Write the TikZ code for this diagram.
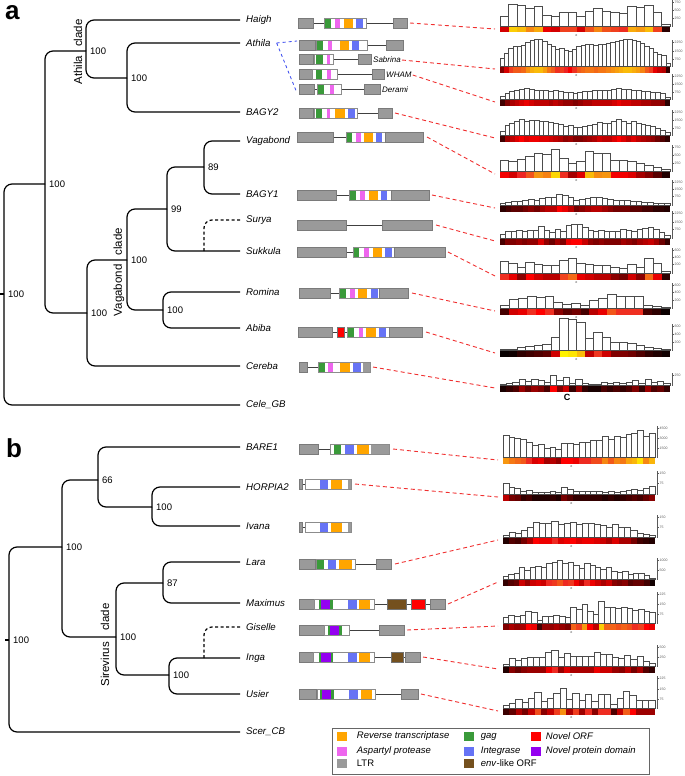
\documentclass[tikz,border=0pt]{standalone}
\usepackage{fontspec}
\setmainfont{Liberation Sans}
\usepackage{tikz}
\usetikzlibrary{positioning}
\definecolor{rtc}{HTML}{FFA500}
\definecolor{protc}{HTML}{EE66EE}
\definecolor{gagc}{HTML}{3A9A3A}
\definecolor{intc}{HTML}{6673F5}
\definecolor{novorf}{HTML}{FF0000}
\definecolor{novdom}{HTML}{9400F0}
\definecolor{envc}{HTML}{74501E}
\definecolor{ltrgray}{HTML}{9A9A9A}
\definecolor{ltredge}{HTML}{7A7A7A}
\definecolor{boxedge}{HTML}{8C8C8C}
\definecolor{linkred}{HTML}{F03030}
\definecolor{athblue}{HTML}{3344EE}
% element pieces: y centre, x from, x to
\newcommand{\ltr}[3]{\draw[ltrbox] (#2,#1-5) rectangle (#3,#1+5);}
\newcommand{\wire}[3]{\draw[wire] (#2,#1) -- (#3,#1);}
\newcommand{\blk}[4]{\draw[blkbox, fill=#4] (#2,#1-5) rectangle (#3,#1+5);}
\newcommand{\orf}[4]{%
  \fill[white] (#2,#1-5) rectangle (#3,#1+5);
  \foreach \xa/\xb/\cl in {#4} {\fill[fill=\cl] (\xa,#1-5) rectangle (\xb,#1+5);}
  \draw[orfedge] (#2,#1-5) rectangle (#3,#1+5);}
% coverage plot: [mark] name, base y, x0, x1, colour scale, heights, axis labels
\newcommand{\hist}[8][c]{%
  \gdef\nbar{1}\gdef\axtop{0}%
  \foreach \h [count=\k] in {#7} {\xdef\nbar{\k}}%
  \foreach \o/\lab in {#8} {\pgfmathsetmacro\tmp{max(\axtop,\o)}\xdef\axtop{\tmp}}%
  \pgfmathsetmacro\bw{(#5-#4)/\nbar}%
  \foreach \h [count=\k] in {#7} {%
    \pgfmathsetmacro\xa{#4+(\k-1)*\bw}%
    \pgfmathsetmacro\xb{#4+\k*\bw}%
    \pgfmathsetmacro\hv{min(1,\h/#6)}%
    \ifdim\hv pt<0.5pt
      \pgfmathsetmacro\pc{200*\hv}\colorlet{heat}{red!\pc!black}%
    \else
      \pgfmathsetmacro\pc{200*(\hv-0.5)}\colorlet{heat}{yellow!\pc!red}%
    \fi
    \fill[heat] (\xa,#3) rectangle (\xb,#3+6.5);
    \draw[bar] (\xa,#3) rectangle (\xb,#3-\h);
  }%
  \pgfmathtruncatemacro\axtopi{\axtop+2}%
  \draw[axisline] (#5+2,#3) -- (#5+2,#3-\axtopi);
  \foreach \m in {0,2,...,\axtopi} {\draw[axisline] (#5+2,#3-\m) -- ++(1,0);}
  \foreach \o/\lab in {#8} {\draw[axisline] (#5+2,#3-\o) -- ++(2,0);
    \node[ticklab] at (#5+4.5,#3-\o) {\lab};}
  \node[cmark] at ({#4+0.45*(#5-#4)},#3+9.5) {#1};
  \coordinate (#2) at (#4-5,#3+3);}

\begin{document}
\begin{tikzpicture}[x=1pt, y=-1pt, font=\fontsize{10}{12}\selectfont,
  branch/.style={line width=1.2pt, rounded corners=8pt},
  dashbranch/.style={branch, dash pattern=on 3pt off 2.5pt},
  leaf/.style={anchor=west, inner xsep=6pt, inner ysep=1pt, font=\itshape\fontsize{9.7}{11}\selectfont},
  boot/.style={anchor=west, inner sep=1pt, xshift=3pt, font=\fontsize{9.5}{11}\selectfont},
  clade/.style={rotate=90, inner sep=0pt, font=\fontsize{11.5}{13}\selectfont},
  panel/.style={anchor=base west, inner sep=0pt, font=\bfseries\fontsize{26}{28}\selectfont},
  subname/.style={anchor=west, inner sep=1pt, font=\itshape\fontsize{8}{9}\selectfont},
  ltrbox/.style={draw=ltredge, fill=ltrgray, line width=0.5pt},
  blkbox/.style={draw=black!55, line width=0.4pt},
  orfedge/.style={draw=boxedge, line width=0.5pt},
  wire/.style={line width=0.9pt, black!75},
  link/.style={linkred, line width=0.9pt, dash pattern=on 4pt off 3pt},
  athlink/.style={athblue, line width=0.8pt, dash pattern=on 3pt off 3pt},
  bar/.style={draw=black!70, line width=0.45pt, fill=white},
  axisline/.style={line width=0.35pt, black!65},
  ticklab/.style={anchor=west, inner sep=0pt, text=black!65, font=\fontsize{3.5}{4}\selectfont},
  cmark/.style={inner sep=0pt, font=\fontsize{3.5}{4}\selectfont},
  swatch/.style={minimum width=10pt, minimum height=9pt, inner sep=0pt},
  keytext/.style={inner sep=0pt, font=\itshape\fontsize{9.5}{11}\selectfont}]
  \useasboundingbox (0,0) rectangle (685,776);

  % ---------------- panel a: tree
  \node[panel] (pa) at (5,20) {a};
  \coordinate (rA) at (4,294);
  \coordinate (nP) at (45,184);
  \coordinate (nAth) at (86,51);
  \coordinate (nA2) at (127,78);
  \coordinate (nVag) at (87,313);
  \coordinate (nV1) at (127,260);
  \coordinate (n99) at (167,209);
  \coordinate (n89) at (204,167);
  \coordinate (nRA) at (163,310);
  \coordinate (sfork) at (204,251);
  \node[leaf] (haigh) at (240,20) {Haigh};
  \node[leaf] (athila) at (240,43) {Athila};
  \node[leaf] (bagy2) at (240,112) {BAGY2};
  \node[leaf] (vagabond) at (240,141) {Vagabond};
  \node[leaf] (bagy1) at (240,194) {BAGY1};
  \node[leaf] (surya) at (240,220) {Surya};
  \node[leaf] (sukkula) at (240,251) {Sukkula};
  \node[leaf] (romina) at (240,292) {Romina};
  \node[leaf] (abiba) at (240,328) {Abiba};
  \node[leaf] (cereba) at (240,366) {Cereba};
  \node[leaf] (celegb) at (240,405) {Cele\_GB};
  \draw[branch] (rA) |- (nP);
  \draw[branch] (rA) |- (celegb.west);
  \draw[branch] (rA) -- ([xshift=-4pt]rA);
  \draw[branch] (nP) |- (nAth);
  \draw[branch] (nP) |- (nVag);
  \draw[branch] (nAth) |- (haigh.west);
  \draw[branch] (nAth) |- (nA2);
  \draw[branch] (nA2) |- (athila.west);
  \draw[branch] (nA2) |- (bagy2.west);
  \draw[branch] (nVag) |- (nV1);
  \draw[branch] (nVag) |- (cereba.west);
  \draw[branch] (nV1) |- (n99);
  \draw[branch] (nV1) |- (nRA);
  \draw[branch] (n99) |- (n89);
  \draw[branch] (n99) |- (sukkula.west);
  \draw[branch] (n89) |- (vagabond.west);
  \draw[branch] (n89) |- (bagy1.west);
  \draw[branch] (nRA) |- (romina.west);
  \draw[branch] (nRA) |- (abiba.west);
  \draw[dashbranch] (sfork) |- (surya.west);
  \node[boot] (bA1) at (rA) {100};
  \node[boot] (bA2) at (nP) {100};
  \node[boot] (bA3) at (nAth) {100};
  \node[boot] (bA4) at (nA2) {100};
  \node[boot] (bA5) at (nVag) {100};
  \node[boot] (bA6) at (nV1) {100};
  \node[boot] (bA7) at (n99) {99};
  \node[boot] (bA8) at (n89) {89};
  \node[boot] (bA9) at (nRA) {100};
  \node[clade] (cAth) at (78,52) {Athila\hspace{9pt}clade};
  \node[clade] (cVag) at (119,272) {Vagabond\hspace{9pt}clade};

  % ---------------- panel a: elements
  % Haigh
  \wire{23}{313}{393}
  \ltr{23}{298}{313}
  \orf{23}{324}{366}{324/331/gagc,335/340/protc,344/353/rtc,356/363/intc}
  \ltr{23}{393}{407}
  \coordinate (eHaigh) at (410,23);
  % Athila, Sabrina, WHAM, Derami
  \wire{45}{315}{386}
  \ltr{45}{299}{315}
  \orf{45}{316}{367}{317/323/gagc,328/332/protc,340/349/rtc,352/359/intc}
  \ltr{45}{386}{403}
  \coordinate (athT) at (297,41);
  \wire{59}{313}{358}
  \ltr{59}{299}{313}
  \orf{59}{314}{333}{316/323/gagc,327/330/protc}
  \ltr{59}{358}{371}
  \node[subname] (sabrina) at (372,60) {Sabrina};
  \wire{74}{312}{372}
  \ltr{74}{299}{312}
  \orf{74}{312}{337}{316/322/gagc,327/331/protc}
  \ltr{74}{372}{384}
  \node[subname] (wham) at (385,75) {WHAM};
  \wire{89}{314}{364}
  \ltr{89}{299}{314}
  \orf{89}{317}{341}{318/324/gagc,330/334/protc}
  \ltr{89}{364}{380}
  \node[subname] (derami) at (381,90) {Derami};
  \coordinate (athB) at (297,93);
  \draw[athlink] (athila.east) -- (athT);
  \draw[athlink] (athila.east) -- (athB);
  % BAGY2
  \wire{113}{313}{378}
  \ltr{113}{299}{313}
  \orf{113}{314}{357}{316/322/gagc,327/330/protc,335/345/rtc,348/355/intc}
  \ltr{113}{378}{392}
  \coordinate (eBagy2) at (395,113);
  % Vagabond
  \wire{137}{333}{346}
  \ltr{137}{297}{333}
  \orf{137}{346}{385}{346/352/gagc,356/361/protc,364/373/rtc,376/382/intc}
  \ltr{137}{385}{423}
  \coordinate (eVagabond) at (427,137);
  % BAGY1
  \wire{195}{336}{349}
  \ltr{195}{297}{336}
  \orf{195}{349}{391}{349/356/gagc,360/365/protc,369/378/rtc,381/387/intc}
  \ltr{195}{391}{429}
  \coordinate (eBagy1) at (432,195);
  % Surya
  \wire{225}{346}{382}
  \ltr{225}{297}{346}
  \ltr{225}{382}{432}
  \coordinate (eSurya) at (436,225);
  % Sukkula
  \wire{252}{346}{353}
  \ltr{252}{297}{346}
  \orf{252}{353}{394}{353/359/gagc,364/369/protc,373/382/rtc,385/392/intc}
  \ltr{252}{394}{445}
  \coordinate (eSukkula) at (448,252);
  % Romina
  \wire{293}{330}{339}
  \ltr{293}{299}{330}
  \orf{293}{339}{379}{339/346/gagc,350/355/protc,358/367/rtc,371/378/intc}
  \ltr{293}{379}{408}
  \coordinate (eRomina) at (412,293);
  % Abiba
  \wire{332}{332}{347}
  \ltr{332}{298}{332}
  \blk{332}{337}{344}{novorf}
  \orf{332}{347}{389}{347/354/gagc,359/363/protc,366/376/rtc,379/386/intc}
  \ltr{332}{389}{422}
  \coordinate (eAbiba) at (426,332);
  % Cereba
  \wire{367}{307}{318}
  \ltr{367}{299}{307}
  \orf{367}{318}{370}{318/325/gagc,328/333/protc,340/350/rtc,353/361/intc,363/370/ltrgray}
  \coordinate (eCereba) at (373,367);

  % ---------------- panel a: coverage
  \hist{hA1}{26}{500}{670}{24}{10,22,21,18,20,11,10,14,14,10,15,18,15,14,13,20,19,21,14,2}{24/750,16/500,8/250}
  \hist{hA2}{66}{500}{670}{31}{8,13,18,20,20,21,24,26,27,27,25,22,20,17,18,16,15,17,20,21,22,22,21,22,22,23,24,25,26,27,27,26,25,23,20,18,14,12,11,3}{24/2250,15/1500,7/750}
  \hist{hA3}{99}{500}{670}{24}{3,6,8,9,10,11,10,9,9,9,8,9,8,7,7,6,7,8,8,9,9,9,9,10,11,10,10,9,9,8,8,7,7,6,2}{23/2250,15/1500,7/750}
  \hist{hA4}{135}{500}{670}{32}{4,10,12,14,16,14,15,15,14,14,13,12,11,9,10,8,8,9,10,11,13,12,12,14,16,14,12,14,12,11,10,9,7,5,3}{23/2250,15/1500,7/750}
  \hist{hA5}{171}{500}{670}{23}{11,9.5,12,14.5,18,17,21.5,12.5,7.5,10,20,17.5,18,11,11,10,7.5,6,4,1.5}{24/750,16/500,8/250}
  \hist{hA6}{205}{500}{670}{22}{2,3,4,4,5,6,5,7,8,8,11,10,8,5,6,7,8,8,7,6,5,5,5,4,4,3,3,2,2,1.5}{23/2250,16/1500,9/750}
  \hist{hA7}{238}{500}{670}{28}{4,7,7,8,7,8,8,12,8,6,9,7,13,14,14,11,8,7,8,7,7,7,9,8,7,9,10,11,9,6,3}{25/2250,16/1500,9/750}
  \hist{hA8}{273}{500}{670}{22}{12,10,6,11,9,8,8,13,15,10,9,8,8,6,5,9,6,15,10,2}{23/600,16/400,9/200}
  \hist{hA9}{308}{500}{670}{22}{3,9,10,12,11,12,6,4,5,3,8,10,14,12,12,12,3,2,0.5}{23/600,16/400,8/200}
  \hist{hA10}{350}{500}{670}{32}{0.5,1,3,4,5,6,13,32,31,28,12,18,13,8,8,7,5,3,2,1}{24/600,16/400,8/200}
  \hist[]{hA11}{385}{500}{670}{20}{1,2,3,6,4,6,5,3,10,5,8,2,6,2,1,1,3,2,3,2,3,5,2,6,3,4,2}{10/250}
  \node[font=\bfseries\fontsize{9}{10}\selectfont] (bigc) at (567,397) {C};
  \foreach \a/\b in {eHaigh/hA1, sabrina.east/hA2, wham.east/hA3, eBagy2/hA4, eVagabond/hA5,
    eBagy1/hA6, eSurya/hA7, eSukkula/hA8, eRomina/hA9, eAbiba/hA10, eCereba/hA11}
    \draw[link] (\a) -- (\b);

  % ---------------- panel b: tree
  \node[panel] (pb) at (6,457) {b};
  \coordinate (rB) at (9,640);
  \coordinate (nB1) at (62,547);
  \coordinate (nB2) at (98,480);
  \coordinate (nB3) at (152,507);
  \coordinate (nB4) at (116,637);
  \coordinate (nB5) at (163,583);
  \coordinate (nB6) at (169,675);
  \coordinate (gfork) at (204,658);
  \node[leaf] (bare1) at (240,447) {BARE1};
  \node[leaf] (horpia2) at (240,487) {HORPIA2};
  \node[leaf] (ivana) at (240,526) {Ivana};
  \node[leaf] (lara) at (240,562) {Lara};
  \node[leaf] (maximus) at (240,603) {Maximus};
  \node[leaf] (giselle) at (240,627) {Giselle};
  \node[leaf] (inga) at (240,658) {Inga};
  \node[leaf] (usier) at (240,694) {Usier};
  \node[leaf] (scercb) at (240,732) {Scer\_CB};
  \draw[branch] (rB) |- (nB1);
  \draw[branch] (rB) |- (scercb.west);
  \draw[branch] (rB) -- ([xshift=-4pt]rB);
  \draw[branch] (nB1) |- (nB2);
  \draw[branch] (nB1) |- (nB4);
  \draw[branch] (nB2) |- (bare1.west);
  \draw[branch] (nB2) |- (nB3);
  \draw[branch] (nB3) |- (horpia2.west);
  \draw[branch] (nB3) |- (ivana.west);
  \draw[branch] (nB4) |- (nB5);
  \draw[branch] (nB4) |- (nB6);
  \draw[branch] (nB5) |- (lara.west);
  \draw[branch] (nB5) |- (maximus.west);
  \draw[branch] (nB6) |- (inga.west);
  \draw[branch] (nB6) |- (usier.west);
  \draw[dashbranch] (gfork) |- (giselle.west);
  \node[boot] (bB1) at (rB) {100};
  \node[boot] (bB2) at (nB1) {100};
  \node[boot] (bB3) at (nB2) {66};
  \node[boot] (bB4) at (nB3) {100};
  \node[boot] (bB5) at (nB4) {100};
  \node[boot] (bB6) at (nB5) {87};
  \node[boot] (bB7) at (nB6) {100};
  \node[clade] (cSir) at (105,645) {Sirevirus\hspace{11pt}clade};

  % ---------------- panel b: elements
  % BARE1
  \wire{449}{318}{330}
  \ltr{449}{299}{318}
  \orf{449}{330}{389}{334/341/gagc,345/354/intc,357/369/rtc,371/389/ltrgray}
  \coordinate (eBare) at (393,449);
  % HORPIA2, Ivana
  \wire{484}{302}{305}
  \ltr{484}{299}{302}
  \orf{484}{305}{351}{320/328/intc,331/342/rtc,348/351/ltrgray}
  \coordinate (eHorpia) at (355,484);
  \wire{527}{302}{305}
  \ltr{527}{299}{302}
  \orf{527}{305}{351}{320/328/intc,331/342/rtc,348/351/ltrgray}
  % Lara
  \wire{564}{315}{376}
  \ltr{564}{299}{315}
  \orf{564}{316}{355}{317/324/gagc,328/336/intc,339/352/rtc}
  \ltr{564}{376}{391}
  \coordinate (eLara) at (395,564);
  % Maximus
  \wire{604}{314}{430}
  \ltr{604}{299}{314}
  \orf{604}{314}{374}{319/321/gagc,321/330/novdom,330/333/gagc,348/357/intc,359/370/rtc}
  \blk{604}{387}{406}{envc}
  \blk{604}{411}{425}{novorf}
  \ltr{604}{430}{445}
  \coordinate (eMaximus) at (448,604);
  % Giselle
  \wire{630}{324}{379}
  \ltr{630}{299}{324}
  \orf{630}{324}{349}{328/330/gagc,330/339/novdom,339/342/gagc}
  \ltr{630}{379}{404}
  \coordinate (eGiselle) at (407,630);
  % Inga
  \wire{657}{313}{405}
  \ltr{657}{299}{313}
  \orf{657}{313}{374}{319/321/gagc,321/331/novdom,331/333/gagc,348/357/intc,359/370/rtc}
  \blk{657}{391}{403}{envc}
  \ltr{657}{405}{420}
  \coordinate (eInga) at (423,657);
  % Usier
  \wire{694}{316}{401}
  \ltr{694}{299}{316}
  \orf{694}{317}{375}{320/322/gagc,322/331/novdom,331/334/gagc,349/358/intc,361/372/rtc}
  \ltr{694}{401}{418}
  \coordinate (eUsier) at (421,694);

  % ---------------- panel b: coverage
  \hist{hB1}{457}{503}{655}{28}{22,20,19,18,15,12,13,9,10,8,14,14,13,15,15,17,17,21,18,21,20,23,24,27,21,24}{29/4500,19/3000,9/1500}
  \hist{hB2}{494}{503}{655}{30}{11,7,6,3,4,2,2,2,3,2,7,5,3,3,3,3,3,2,3,2,3,4,5,4,6,8}{21/150,11/75}
  \hist{hB3}{537}{503}{655}{30}{2,5,4,7,10,15,14,14,16,13,14,15,13,14,14,13,12,10,13,10,10,7,4,3,2}{20/150,10/75}
  \hist{hB4}{579}{503}{655}{30}{3,5,6,12,9,12,13,12,16,17,19,16,17,14,11,16,14,12,10,12,8,7,8,5,6,6,4,1}{19/1000,9/500}
  \hist{hB5}{623}{503}{655}{24}{6,8,7,8,12,11,3,7,7,8,7,6,16,14,19,12,9,22,16,16,15,16,15,13,14,12,11}{29/225,19/150,9/75}
  \hist{hB6}{666}{503}{655}{30}{2,8,6,8,9,9,9,14,16,9,13,10,10,10,10,14,12,12,9,8,11,7,10,5,3}{19/500,9/250}
  \hist{hB7}{708}{503}{655}{26}{3,5,9,6,10,16,7,10,15,20,9,15,8,14,7,14,14,4,10,17,13,8,8,8}{30/225,19/150,9/75}
  \foreach \a/\b in {eBare/hB1, eHorpia/hB2, eLara/hB3, eMaximus/hB4, eGiselle/hB5, eInga/hB6, eUsier/hB7}
    \draw[link] (\a) -- (\b);

  % ---------------- key
  \draw[black!60, line width=0.8pt] (332,728) rectangle (649,774);
  \node[swatch, fill=rtc] (kRT) at (341.5,736.5) {};
  \node[swatch, fill=protc] (kAP) at (341.5,751.5) {};
  \node[swatch, fill=ltrgray] (kLTR) at (341.5,763.5) {};
  \node[swatch, fill=gagc] (kGag) at (468.5,736.5) {};
  \node[swatch, fill=intc] (kInt) at (468.5,751.5) {};
  \node[swatch, fill=envc] (kEnv) at (468.5,763.5) {};
  \node[swatch, fill=novorf] (kOrf) at (535.5,736.5) {};
  \node[swatch, fill=novdom] (kDom) at (535.5,751.5) {};
  \node[keytext, right=10pt of kRT] (tRT) {Reverse transcriptase};
  \node[keytext, right=10pt of kAP] (tAP) {Aspartyl protease};
  \node[keytext, right=10pt of kLTR, font=\fontsize{9.5}{11}\selectfont] (tLTR) {LTR};
  \node[keytext, right=7pt of kGag] (tGag) {gag};
  \node[keytext, right=7pt of kInt] (tInt) {Integrase};
  \node[keytext, right=7pt of kEnv, font=\fontsize{9.5}{11}\selectfont] (tEnv) {\textit{env}-like ORF};
  \node[keytext, right=5pt of kOrf] (tOrf) {Novel ORF};
  \node[keytext, right=5pt of kDom] (tDom) {Novel protein domain};
\end{tikzpicture}
\end{document}
